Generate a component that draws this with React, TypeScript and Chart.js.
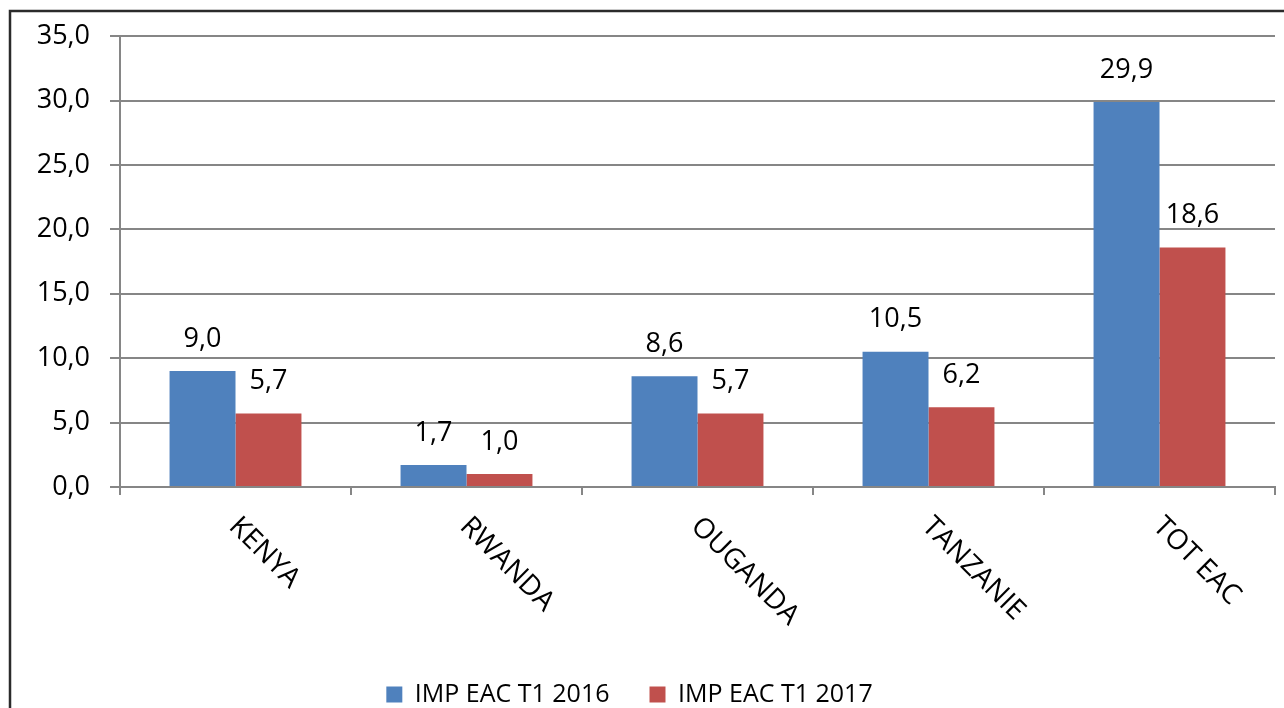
import React, { useEffect, useRef } from "react";
import { Chart, registerables } from "chart.js";

Chart.register(...registerables);

const categories = ["KENYA", "RWANDA", "OUGANDA", "TANZANIE", "TOT EAC"];
const series2016 = [9.0, 1.7, 8.6, 10.5, 29.9];
const series2017 = [5.7, 1.0, 5.7, 6.2, 18.6];
const seriesNames = ["IMP EAC T1 2016", "IMP EAC T1 2017"];
const seriesColors = ["#4F81BD", "#C0504D"];

const FONT = "'Open Sans', 'Noto Sans', sans-serif";
const TEXT = "#000000";
const GRID = "#868686";

const fmt = (v: number) => v.toFixed(1).replace(".", ",");

const framePlugin = {
  id: "frame",
  afterLayout(chart: any) {
    const lg = chart.legend;
    if (lg) {
      lg.left -= 13;
      lg.right -= 13;
      lg.top += 9;
      lg.bottom += 9;
    }
  },
  afterDraw(chart: any) {
    const ctx = chart.ctx;
    ctx.save();
    ctx.strokeStyle = "#2b2b2b";
    ctx.lineWidth = 2.5;
    ctx.beginPath();
    ctx.moveTo(10, chart.height);
    ctx.lineTo(10, 11);
    ctx.lineTo(chart.width, 11);
    ctx.stroke();
    ctx.restore();
  },
};

const valueLabelPlugin = {
  id: "valueLabels",
  afterDatasetsDraw(chart: any) {
    const ctx = chart.ctx;
    ctx.save();
    ctx.font = `27px ${FONT}`;
    ctx.fillStyle = TEXT;
    ctx.textAlign = "center";
    ctx.textBaseline = "middle";
    chart.data.datasets.forEach((ds: any, di: number) => {
      const meta = chart.getDatasetMeta(di);
      meta.data.forEach((bar: any, i: number) => {
        ctx.fillText(fmt(ds.data[i]), bar.x, bar.y - 32);
      });
    });
    ctx.restore();
  },
};

const xLabelPlugin = {
  id: "xLabels",
  afterDraw(chart: any) {
    const ctx = chart.ctx;
    const xs = chart.scales.x;
    ctx.save();
    ctx.font = `28px ${FONT}`;
    ctx.fillStyle = TEXT;
    ctx.textAlign = "left";
    ctx.textBaseline = "middle";
    categories.forEach((c, i) => {
      const x = xs.getPixelForValue(i);
      ctx.save();
      ctx.translate(x - 2, xs.top + 35);
      ctx.rotate(Math.PI / 4);
      ctx.fillText(c, 0, 0);
      ctx.restore();
    });
    ctx.restore();
  },
};

export default function App() {
  const ref = useRef<HTMLCanvasElement>(null);

  useEffect(() => {
    document.body.style.margin = "0";
    document.body.style.background = "#ffffff";
    const chart = new Chart(ref.current as HTMLCanvasElement, {
      type: "bar",
      data: {
        labels: categories,
        datasets: [
          {
            label: seriesNames[0],
            data: series2016,
            backgroundColor: seriesColors[0],
            borderWidth: 0,
            categoryPercentage: 0.571,
            barPercentage: 1.0,
          },
          {
            label: seriesNames[1],
            data: series2017,
            backgroundColor: seriesColors[1],
            borderWidth: 0,
            categoryPercentage: 0.571,
            barPercentage: 1.0,
          },
        ],
      },
      options: {
        animation: false,
        responsive: true,
        maintainAspectRatio: false,
        layout: { padding: { top: 36, left: 10, right: 9, bottom: 0 } },
        plugins: {
          tooltip: { enabled: false },
          legend: {
            position: "bottom",
            labels: {
              boxWidth: 16,
              boxHeight: 16,
              padding: 40,
              color: TEXT,
              font: { family: FONT, size: 25 },
            },
          },
        },
        scales: {
          x: {
            grid: {
              display: true,
              drawOnChartArea: false,
              drawTicks: true,
              tickLength: 8,
              offset: true,
              color: GRID,
              lineWidth: 2,
            },
            border: { color: GRID, width: 2 },
            ticks: { display: false },
            afterFit(scale: any) {
              scale.height = 146;
            },
          },
          y: {
            min: 0,
            max: 35,
            ticks: {
              stepSize: 5,
              padding: 20,
              color: TEXT,
              font: { family: FONT, size: 27 },
              callback: (v: any) => fmt(Number(v)),
            },
            grid: {
              color: GRID,
              lineWidth: 2,
              tickLength: 10,
              drawTicks: true,
            },
            border: { color: GRID, width: 2 },
            afterFit(scale: any) {
              scale.width = 110;
            },
          },
        },
      },
      plugins: [framePlugin, valueLabelPlugin, xLabelPlugin],
    });
    return () => chart.destroy();
  }, []);

  return (
    <div style={{ position: "fixed", left: 0, top: 0, width: 1284, height: 708, background: "#fff" }}>
      <canvas ref={ref} />
    </div>
  );
}
